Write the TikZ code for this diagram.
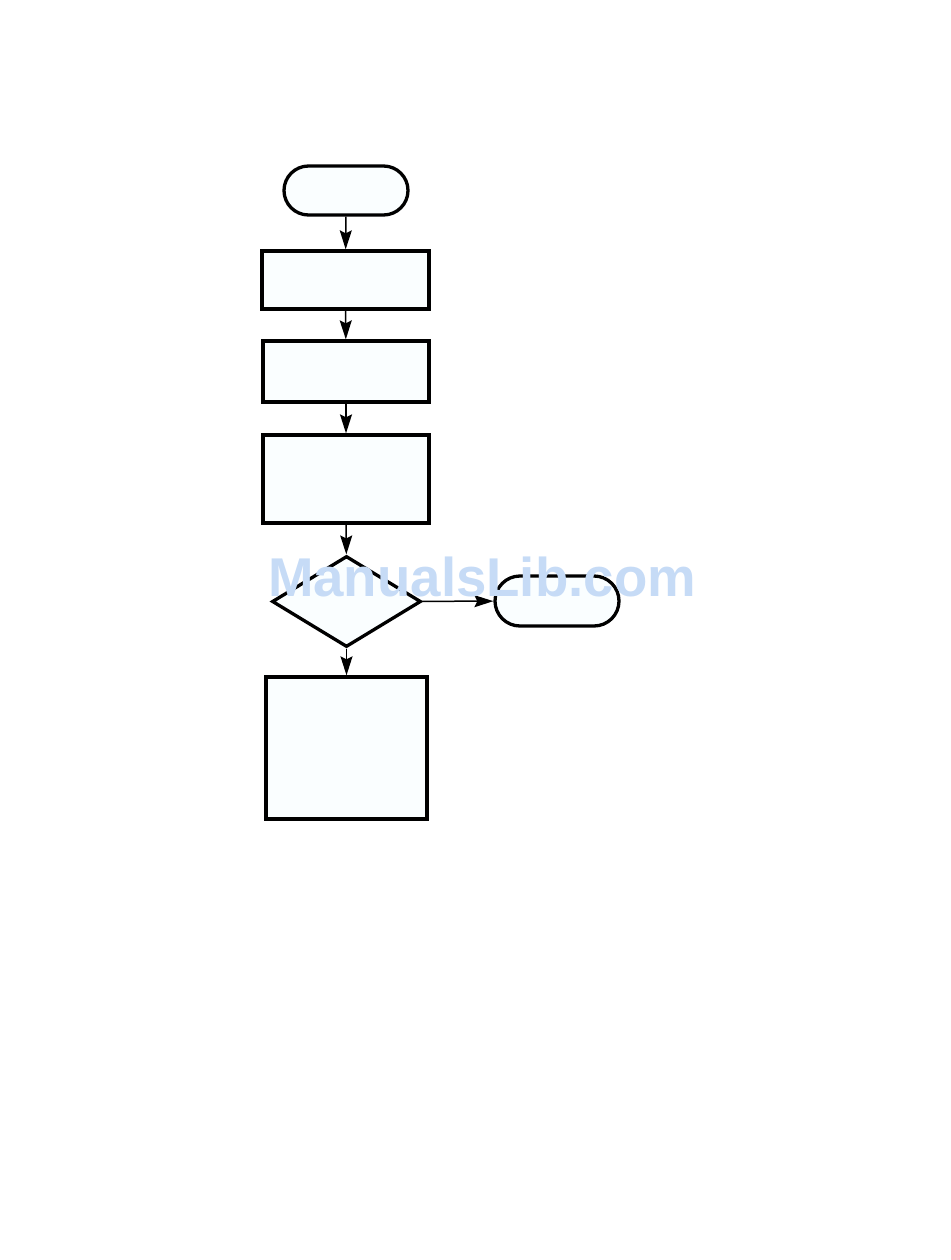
\documentclass[tikz,border=0pt]{standalone}
\usepackage{fontspec}
\setmainfont{Liberation Sans}
\usetikzlibrary{shapes.geometric,shapes.misc,arrows.meta}
\definecolor{boxfill}{HTML}{FAFEFF}
\definecolor{wm}{HTML}{C6DBF6}
\begin{document}
\begin{tikzpicture}[x=1pt,y=-1pt,
  fcshape/.style={draw=black,line width=3.3pt,fill=boxfill,inner sep=0pt},
  term/.style={fcshape,rounded rectangle},
  proc/.style={fcshape,rectangle},
  dec/.style={fcshape,diamond},
  conn/.style={line width=1.5pt,-{Stealth[length=19pt,width=12pt,inset=3pt]}}]
\useasboundingbox (0,0) rectangle (950,1260);
\node[term,minimum width=124pt,minimum height=49pt] (start) at (346,190.5) {};
\node[proc,minimum width=167pt,minimum height=58pt] (b1) at (345.5,280) {};
\node[proc,minimum width=166pt,minimum height=61pt] (b2) at (346,371.5) {};
\node[proc,minimum width=166pt,minimum height=88pt] (b3) at (346,479) {};
\node[dec,minimum width=149pt,minimum height=91pt] (d) at (346.5,601.5) {};
\node[term,minimum width=124pt,minimum height=50pt] (stop) at (557,601) {};
\node[proc,minimum width=161pt,minimum height=142pt] (b4) at (346.5,748) {};
\draw[conn] (start) -- (b1);
\draw[conn] (b1) -- (b2);
\draw[conn] (b2) -- (b3);
\draw[conn] (b3) -- (d);
\draw[conn] (d) -- (stop);
\draw[conn] (d) -- (b4);
\node[text=wm,font=\bfseries,inner sep=0pt] (wmark) at (482,577) {\resizebox{428pt}{!}{ManualsLib.com}};
\end{tikzpicture}
\end{document}
